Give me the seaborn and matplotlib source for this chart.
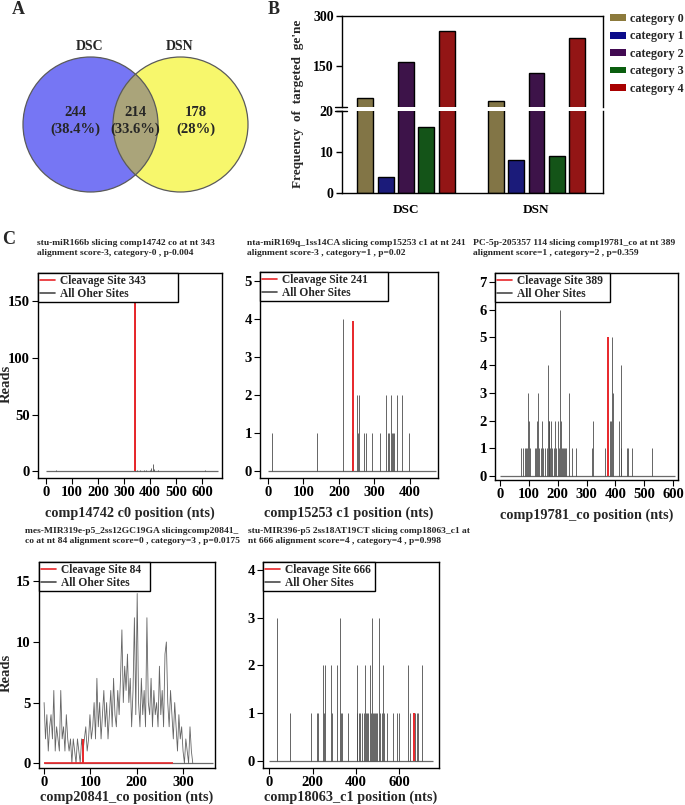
import numpy as np
import pandas as pd
import seaborn as sns
import matplotlib.pyplot as plt
from matplotlib.patches import Circle, Patch
from matplotlib.lines import Line2D

# ---- panel A: venn
venn_sets = ["DSC", "DSN"]
venn_counts = [244, 214, 178]
venn_pct = ["(38.4%)", "(33.6%)", "(28%)"]

# ---- panel B: frequency of targeted genes per category
groups = ["DSC", "DSN"]
categories = ["category 0", "category 1", "category 2", "category 3", "category 4"]
dsc_counts = [53, 4, 163, 16, 255]
dsn_counts = [44, 8, 130, 9, 235]
cat_colors = ["#8c7a3c", "#0b0b8a", "#420a52", "#0a5e0f", "#a80000"]

# ---- panel C: t-plots (position, reads)
c1_pos = [40, 341, 350, 360, 375, 385, 400, 405, 410, 415, 430, 610]
c1_reads = [1, 152, 1, 1, 1, 1, 1, 3, 6, 2, 1, 1]
c1_site, c1_site_reads, c1_len = 343, 152, 660

c2_pos = [13, 139, 213, 238, 250, 253, 257, 272, 275, 293, 316, 334, 338, 342, 346,
          349, 353, 356, 363, 379, 397]
c2_reads = [1, 1, 4, 1, 2, 1, 2, 1, 1, 1, 1, 2, 1, 1, 2, 1, 1, 1, 2, 2, 1]
c2_site, c2_site_reads, c2_len = 241, 3.95, 473

c3_pos = [74, 80, 86, 89, 94, 97, 100, 103, 121, 125, 128, 133, 137, 141, 147,
          151, 157, 163, 166, 169, 171, 175, 178, 181, 186, 192, 196, 201, 204, 208,
          210, 214, 219, 222, 226, 230, 240, 249, 264, 318, 323, 365, 382, 386, 389,
          391, 413, 418, 420, 442, 444, 458, 527]
c3_reads = [1, 1, 1, 1, 1, 3, 2, 1, 1, 1, 2, 3, 1, 1, 2,
            1, 1, 1, 4, 2, 2, 1, 2, 1, 1, 2, 1, 2, 1, 6,
            2, 1, 1, 1, 1, 1, 3, 1, 1, 1, 2, 1, 2, 2, 5,
            3, 2, 4, 1, 1, 1, 1, 1]
c3_site, c3_site_reads, c3_len = 376, 5, 608

c4_reads = [5, 2, 4, 1, 3, 4, 2, 6, 1, 3, 2,
            1, 6, 2, 3, 1, 4, 2, 1, 2, 0,
            2, 1, 0, 2, 1, 0, 2, 1, 2, 3,
            1, 2, 4, 2, 3, 5, 2, 7, 3, 5,
            2, 4, 6, 3, 5, 2, 4, 6, 3, 7,
            4, 3, 6, 4, 7, 11, 5, 8, 6, 9,
            5, 7, 3, 6, 12, 4, 14, 5, 3, 7,
            4, 6, 3, 12, 5, 4, 7, 3, 6, 4,
            5, 3, 8, 4, 6, 3, 9, 10, 5, 3,
            6, 4, 2, 5, 3, 1, 4, 2, 3, 1,
            0, 2, 1, 0, 3, 1, 0]
c4_pos = np.arange(0, 3 * len(c4_reads), 3)
c4_site, c4_site_reads, c4_len, c4_red_len = 84, 2, 365, 279

c5_pos = [37, 95, 192, 222, 226, 249, 254, 257, 285, 291, 311, 326, 329, 334, 362,
          403, 406, 415, 418, 426, 437, 442, 446, 452, 457, 465, 469, 472, 477, 483,
          488, 492, 498, 508, 511, 518, 526, 531, 542, 569, 591, 600, 642, 649, 672,
          680, 688, 706]
c5_reads = [3, 1, 1, 1, 1, 2, 1, 2, 2, 1, 2, 3, 1, 1, 1,
            2, 1, 1, 1, 1, 1, 2, 1, 1, 1, 2, 1, 3, 1, 1,
            1, 1, 1, 3, 1, 1, 2, 1, 1, 1, 1, 1, 2, 1, 1,
            1, 1, 2]
c5_site, c5_site_reads, c5_len = 666, 1, 754

c_titles = [
    "stu-miR166b slicing comp14742 co at nt 343\nalignment score-3, category-0 , p-0.004",
    "nta-miR169q_1ss14CA slicing comp15253 c1 at nt 241\nalignment score-3 , category=1 , p=0.02",
    "PC-5p-205357 114 slicing comp19781_co at nt 389\nalignment score=1 , category=2 , p=0.359",
    "mes-MIR319e-p5_2ss12GC19GA slicingcomp20841_\nco at nt 84 alignment score=0 , category=3 , p=0.0175",
    "stu-MIR396-p5 2ss18AT19CT slicing comp18063_c1 at\nnt 666 alignment score=4 , category=4 , p=0.998",
]
c_xlabels = ["comp14742 c0 position (nts)", "comp15253 c1 position (nts)",
             "comp19781_co position (nts)", "comp20841_co position (nts)",
             "comp18063_c1 position (nts)"]

sns.set_theme(style="ticks")
plt.rcParams["font.family"] = ["Liberation Serif", "DejaVu Serif"]
plt.rcParams["font.weight"] = "bold"
plt.rcParams["axes.labelweight"] = "bold"
plt.rcParams["axes.edgecolor"] = "black"
plt.rcParams["xtick.color"] = "black"
plt.rcParams["ytick.color"] = "black"

W, H = 685, 805
fig = plt.figure(figsize=(W / 100, H / 100), dpi=100)


def box(x0, y0, x1, y1):
    return [x0 / W, 1 - y1 / H, (x1 - x0) / W, (y1 - y0) / H]


def ftext(x, y, s, **kw):
    return fig.text(x / W, 1 - y / H, s, **kw)


# ---------------- A
ax_a = fig.add_axes(box(0, 0, 260, 200))
ax_a.set_xlim(0, 260)
ax_a.set_ylim(200, 0)
ax_a.axis("off")
left = Circle((90.5, 124.5), 67.5, facecolor="#7676f4", edgecolor="none")
right = Circle((180.5, 124.5), 67.5, facecolor="#f7f76c", edgecolor="none")
ax_a.add_patch(left)
ax_a.add_patch(right)
inter = Circle((180.5, 124.5), 67.5, facecolor="#aaa47a", edgecolor="none")
ax_a.add_patch(inter)
inter.set_clip_path(left)
for cx in (90.5, 180.5):
    ax_a.add_patch(Circle((cx, 124.5), 67.5, facecolor="none", edgecolor="#5a5a5a", lw=0.9))
ax_a.text(90, 47, venn_sets[0], ha="center", va="center", fontsize=10, fontweight="bold")
ax_a.text(180, 47, venn_sets[1], ha="center", va="center", fontsize=10, fontweight="bold")
for x, n, p in zip([75, 135, 196], venn_counts, venn_pct):
    ax_a.text(x, 113, str(n), ha="center", va="center", fontsize=10.5, fontweight="bold")
    ax_a.text(x, 129, p, ha="center", va="center", fontsize=10.5, fontweight="bold")

ftext(18, 10, "A", fontsize=13, fontweight="bold", ha="center", va="center")
ftext(274, 10, "B", fontsize=13, fontweight="bold", ha="center", va="center")
ftext(9, 239, "C", fontsize=13, fontweight="bold", ha="center", va="center")

# ---------------- B (broken axis)
df_b = pd.DataFrame({
    "group": np.repeat(groups, len(categories)),
    "category": categories * len(groups),
    "count": dsc_counts + dsn_counts,
})
ax_top = fig.add_axes(box(342, 16, 603, 107))
ax_bot = fig.add_axes(box(342, 111, 603, 193))
for ax in (ax_top, ax_bot):
    sns.barplot(data=df_b, x="group", y="count", hue="category", palette=cat_colors,
                width=0.78, gap=0.22, edgecolor="black", linewidth=1.0,
                errorbar=None, legend=False, ax=ax)
    ax.set_xlim(-0.49, 1.51)
    ax.set_xlabel("")
    ax.set_ylabel("")
    for s in ax.spines.values():
        s.set_linewidth(1.0)
    ax.tick_params(axis="y", direction="out", length=4, width=1, labelsize=10, pad=2)
ax_top.set_ylim(27, 300)
ax_top.set_yticks([150, 300])
ax_top.spines["bottom"].set_visible(False)
ax_top.tick_params(axis="x", bottom=False, labelbottom=False)
ax_bot.set_ylim(0, 20)
ax_bot.set_yticks([0, 10, 20])
ax_bot.spines["top"].set_visible(False)
ax_bot.tick_params(axis="x", direction="in", length=3, labelsize=9.5, pad=8)
for lab in ax_top.get_yticklabels() + ax_bot.get_yticklabels() + ax_bot.get_xticklabels():
    lab.set_fontweight("bold")
ax_top.plot([-0.025, 0.02], [0, 0], transform=ax_top.transAxes, color="black", lw=1, clip_on=False)
ax_bot.plot([-0.025, 0.02], [1, 1], transform=ax_bot.transAxes, color="black", lw=1, clip_on=False)
ftext(298, 104, "Frequency  of  targeted  ge'ne", rotation=90, ha="center", va="center",
      fontsize=9.5, fontweight="bold")
handles = [Patch(facecolor=c, edgecolor="none") for c in cat_colors]
fig.legend(handles, categories, loc="upper left", bbox_to_anchor=(610 / W, 1 - 13 / H),
           frameon=False, prop={"size": 8.7, "weight": "bold"}, handlelength=1.3,
           handleheight=0.5, labelspacing=0.45, handletextpad=0.35, borderaxespad=0,
           borderpad=0)

# ---------------- C
panels = [
    (box(38, 273, 222, 478), c1_pos, c1_reads, c1_site, c1_site_reads, c1_len, None,
     (-31, 677), (-6, 175), range(0, 700, 100), [0, 50, 100, 150], (37, 248), 140),
    (box(260, 272, 438, 478), c2_pos, c2_reads, c2_site, c2_site_reads, c2_len, None,
     (-22, 479), (-0.18, 5.24), range(0, 500, 100), range(0, 6), (247, 248), 128),
    (box(495, 273, 678, 480), c3_pos, c3_reads, c3_site, c3_site_reads, c3_len, None,
     (-17, 617), (-0.14, 7.32), range(0, 700, 100), range(0, 8), (473, 248), 115),
    (box(39, 562, 215, 768), c4_pos, c4_reads, c4_site, c4_site_reads, c4_len, c4_red_len,
     (-11, 369), (-0.4, 16.6), range(0, 400, 100), [0, 5, 10, 15], (25, 536), 111),
    (box(263, 562, 439, 768), c5_pos, c5_reads, c5_site, c5_site_reads, c5_len, None,
     (-29, 783), (-0.15, 4.17), range(0, 800, 200), range(0, 5), (248, 536), 112),
]
reads_label_y = {0: 384, 3: 673}
gray = "#4a4a4a"
red = "#e8262a"
for i, (rect, pos, reads, site, site_reads, length, red_len, xl, yl, xt, yt, tpos, legw) in enumerate(panels):
    ax = fig.add_axes(rect)
    ax.hlines(0, 0, length, color="#6a6a6a", lw=0.9)
    if i == 3:
        sns.lineplot(x=pos, y=reads, ax=ax, color=gray, lw=0.6, alpha=0.85, estimator=None)
        ax.hlines(0, 0, red_len, color=red, lw=1.2)
    else:
        ax.vlines(pos, 0, reads, color=gray, lw=0.7, alpha=0.85)
    ax.vlines([site], 0, [site_reads], color=red, lw=1.4)
    ax.set_xlim(*xl)
    ax.set_ylim(*yl)
    ax.set_xticks(list(xt))
    ax.set_yticks(list(yt))
    for s in ax.spines.values():
        s.set_linewidth(1.0)
    ax.tick_params(direction="out", length=4, width=0.8, labelsize=10.5, pad=2)
    for lab in ax.get_xticklabels() + ax.get_yticklabels():
        lab.set_fontweight("bold")
    ax.set_xlabel(c_xlabels[i], fontsize=10.3, fontweight="bold",
                  labelpad=5 if i < 3 else 1)
    if i in reads_label_y:
        ax_w, ax_h = rect[2] * W, rect[3] * H
        ax_bottom_px = (1 - rect[1]) * H
        ax.set_ylabel("Reads", fontsize=10.5, fontweight="bold")
        ax.yaxis.set_label_coords((12.5 - rect[0] * W) / ax_w,
                                  (ax_bottom_px - reads_label_y[i]) / ax_h)
    leg = ax.legend([Line2D([], [], color=red, lw=1.2), Line2D([], [], color=gray, lw=1.2)],
                    ["Cleavage Site %d" % (343, 241, 389, 84, 666)[i], "All Oher Sites"],
                    loc="upper left", bbox_to_anchor=(0, 0, legw / (rect[2] * W), 1),
                    mode="expand", borderaxespad=0, fancybox=False, framealpha=1,
                    edgecolor="black", prop={"size": 8.3, "weight": "bold"},
                    handlelength=1.25, handletextpad=0.5, borderpad=0.2, labelspacing=0.05)
    leg.get_frame().set_linewidth(1.0)
    ftext(tpos[0], tpos[1], c_titles[i], ha="left", va="center", fontsize=6.8,
          fontweight="bold", linespacing=1.45)

fig.savefig("out.png", dpi=100)
